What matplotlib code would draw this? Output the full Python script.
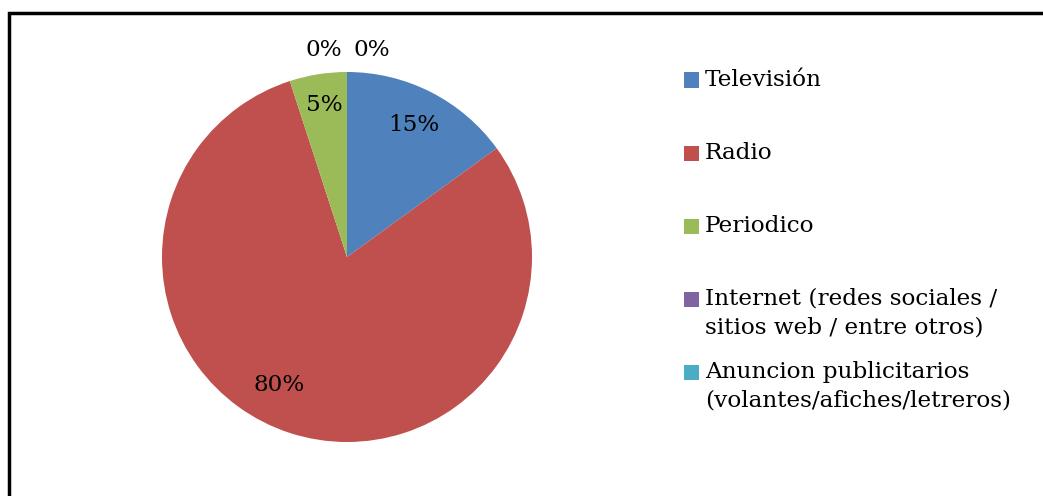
import numpy as np
import matplotlib.pyplot as plt
from matplotlib.patches import Rectangle

# Data
categories = ["Televisión", "Radio", "Periodico",
              "Internet (redes sociales /\nsitios web / entre otros)",
              "Anuncion publicitarios\n(volantes/afiches/letreros)"]
percent = [15, 80, 5, 0, 0]
colors = ["#4F81BD", "#C0504D", "#9BBB59", "#8064A2", "#4BACC6"]

plt.rcParams['font.family'] = ['DejaVu Serif']
FS = 16.7

fig = plt.figure(figsize=(10.43, 4.96), dpi=100)
W, H = 1043, 496

# pie axes: centre at (347, 257) px, radius 185 px
R = 185.0
half = 1.25 * R
ax = fig.add_axes([(347 - half) / W, (H - 257 - half) / H, 2 * half / W, 2 * half / H])
wedges, _ = ax.pie(percent, colors=colors, startangle=90, counterclock=False,
                   wedgeprops=dict(linewidth=0))
ax.set_xlim(-1.25, 1.25)
ax.set_ylim(-1.25, 1.25)
ax.set_aspect("equal")

# percentage labels
zero_count = 0
for w, p in zip(wedges, percent):
    mid = np.deg2rad((w.theta1 + w.theta2) / 2)
    if p > 0:
        d = 0.8
        x, y = d * np.cos(mid), d * np.sin(mid)
        if p == max(percent):
            x, y = x - 0.12, y + 0.07
        elif p == min(q for q in percent if q > 0):
            y = y + 0.03
        ax.text(x, y, f"{p}%", ha="center", va="center", fontsize=FS)
    else:
        x = -0.125 + 0.26 * zero_count
        ax.text(x, 1.12, f"{p}%", ha="center", va="center", fontsize=FS)
        zero_count += 1

# legend, drawn by hand so the key square sits on the first line of each label
for i, (lab, c) in enumerate(zip(categories, colors)):
    yc = 80 + 73 * i
    fig.patches.append(Rectangle((684 / W, (H - yc - 7.5) / H), 15 / W, 15 / H,
                                 transform=fig.transFigure, facecolor=c,
                                 edgecolor="none"))
    fig.text(705 / W, (H - yc + 11) / H, lab, ha="left", va="top",
             fontsize=FS, linespacing=1.38)

# chart frame (only top and left edges visible in the crop)
fig.patches.append(Rectangle((9 / W, -0.1), 1.2, (H - 13) / H + 0.1,
                             transform=fig.transFigure, fill=False,
                             edgecolor="black", linewidth=2.5, clip_on=False))

fig.savefig("out.png", dpi=100)
